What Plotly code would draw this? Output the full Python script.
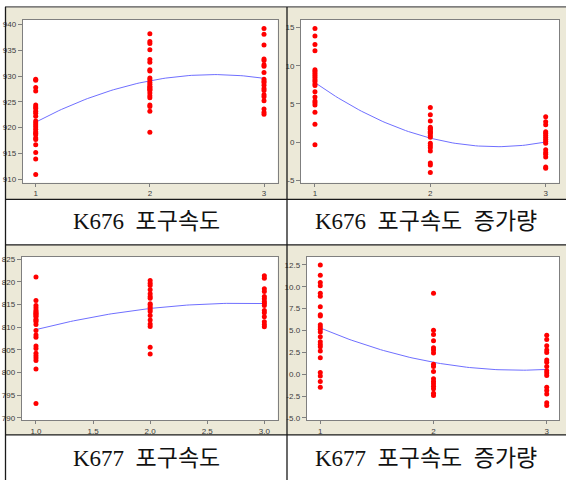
import numpy as np
import plotly.graph_objects as go

W, H = 566, 483

# ---------------- data ----------------
groups = [1, 2, 3]

k676_speed_g1 = [929.4, 929.2, 927.8, 927.1, 924.4, 924.0, 923.7, 923.2, 922.8, 922.2, 921.3, 920.9,
                 920.5, 920.1, 919.7, 919.2, 918.9, 918.6, 918.0, 917.7, 916.7, 915.2, 913.9, 910.9]
k676_speed_g2 = [938.2, 936.7, 936.3, 935.1, 933.2, 932.7, 931.2, 931.0, 929.6, 929.3, 928.8, 928.4,
                 928.0, 927.9, 927.6, 927.4, 927.2, 926.7, 926.2, 925.8, 924.4, 924.1, 923.2, 919.1]
k676_speed_g3 = [939.2, 938.1, 936.0, 933.3, 933.0, 932.2, 931.9, 930.7, 929.4, 929.0, 928.7, 928.2,
                 927.6, 927.2, 926.4, 926.0, 925.2, 923.6, 923.0, 922.6]

k676_inc_g1 = [14.87, 13.88, 12.76, 11.94, 9.48, 9.27, 9.0, 8.75, 8.49, 8.19, 7.97, 7.63, 7.41,
               6.59, 5.91, 5.39, 5.17, 4.87, 3.92, 2.33, -0.34]
k676_inc_g2 = [4.53, 3.58, 2.76, 1.94, 1.8, 1.68, 1.42, 1.3, 1.16, 0.86, 0.65, -0.13, -0.43, -0.73,
               -1.16, -2.72, -2.97, -3.97]
k676_inc_g3 = [3.32, 2.67, 2.28, 1.38, 1.16, 0.91, 0.65, 0.39, 0.13, -0.13, -0.99, -1.34, -1.59,
               -1.94, -3.23, -3.4]

k677_speed_g1 = [821.1, 815.9, 814.8, 814.3, 813.8, 813.5, 813.2, 813.0, 812.8, 812.5, 812.3, 811.8,
                 811.5, 811.2, 810.6, 809.3, 808.3, 807.8, 805.9, 805.3, 804.3, 803.7, 803.2, 802.7,
                 800.8, 793.2]
k677_speed_g2 = [820.3, 819.7, 819.2, 818.3, 817.4, 816.8, 816.4, 815.2, 814.9, 814.4, 813.9, 813.5,
                 812.6, 811.6, 810.7, 810.2, 805.6, 804.1]
k677_speed_g3 = [821.4, 820.8, 818.5, 817.9, 816.8, 816.3, 815.7, 815.3, 814.8, 813.7, 813.2, 812.3,
                 811.2, 810.6, 810.1]

k677_inc_g1 = [12.5, 11.33, 10.5, 10.12, 9.26, 8.92, 7.71, 6.8, 6.65, 5.67, 5.41, 5.14, 4.84, 4.28,
               3.71, 3.41, 3.14, 2.65, 1.9, 0.2, -0.21, -0.82, -1.49]
k677_inc_g2 = [9.26, 5.03, 4.54, 3.82, 3.03, 2.77, 2.43, 1.15, 0.88, 0.32, -0.51, -0.82, -1.08,
               -1.38, -1.65, -2.17, -2.44]
k677_inc_g3 = [4.47, 3.97, 3.26, 2.77, 2.5, 1.64, 1.37, 0.88, 0.39, 0.13, -0.14, -1.49, -1.87,
               -2.25, -3.27, -3.57]

captions = ["K676\u00a0\u00a0포구속도", "K676\u00a0\u00a0포구속도\u00a0\u00a0증가량",
            "K677\u00a0\u00a0포구속도", "K677\u00a0\u00a0포구속도\u00a0\u00a0증가량"]

y_ticks_tl = [910, 915, 920, 925, 930, 935, 940]
y_ticks_tr = [-5, 0, 5, 10, 15]
y_ticks_bl = [790, 795, 800, 805, 810, 815, 820, 825]
y_ticks_br = [-5.0, -2.5, 0.0, 2.5, 5.0, 7.5, 10.0, 12.5]
x_ticks_int = [1, 2, 3]
x_ticks_half = [1.0, 1.5, 2.0, 2.5, 3.0]

# ---------------- helpers ----------------
def px(x):
    return x / W

def py(y):
    return 1 - y / H

BEIGE = "#ECE9D8"
FRAME = "#7F7F7F"
TICKC = "#3C3C3C"

panels = [
    dict(data=[k676_speed_g1, k676_speed_g2, k676_speed_g3], box=(22.7, 277.7, 18.3, 182.7),
         xr=[0.886, 3.12], yr=[909.3, 940.85], yt=y_ticks_tl, xt=x_ticks_int, xf="d", yf="d"),
    dict(data=[k676_inc_g1, k676_inc_g2, k676_inc_g3], box=(301.0, 559.3, 18.3, 182.7),
         xr=[0.879, 3.118], yr=[-5.31, 15.96], yt=y_ticks_tr, xt=x_ticks_int, xf="d", yf="d"),
    dict(data=[k677_speed_g1, k677_speed_g2, k677_speed_g3], box=(21.7, 277.7, 257.3, 422.3),
         xr=[0.875, 3.117], yr=[789.56, 825.59], yt=y_ticks_bl, xt=x_ticks_half, xf=".1f", yf="d"),
    dict(data=[k677_inc_g1, k677_inc_g2, k677_inc_g3], box=(306.7, 559.3, 257.3, 422.7),
         xr=[0.88, 3.111], yr=[-5.27, 13.45], yt=y_ticks_br, xt=x_ticks_int, xf="d", yf=".1f"),
]

fig = go.Figure()
shapes = []

# beige panel backgrounds
for (x0, x1, y0, y1) in [(5, 287, 5, 199.5), (287, 566, 5, 199.5),
                         (5, 287, 245.5, 437.5), (287, 566, 245.5, 437.5)]:
    shapes.append(dict(type="rect", xref="paper", yref="paper", x0=px(x0), x1=px(x1),
                       y0=py(y1), y1=py(y0), fillcolor=BEIGE, line=dict(width=0), layer="below"))

layout_axes = {}
for i, p in enumerate(panels):
    n = "" if i == 0 else str(i + 1)
    x0, x1, y0, y1 = p["box"]
    shapes.append(dict(type="rect", xref="paper", yref="paper", x0=px(x0), x1=px(x1),
                       y0=py(y1), y1=py(y0), fillcolor="white", line=dict(width=0), layer="below"))
    xs_all, ys_all = [], []
    for g, vals in zip(groups, p["data"]):
        xs_all += [g] * len(vals)
        ys_all += vals
    xs_all = np.array(xs_all, dtype=float)
    ys_all = np.array(ys_all, dtype=float)
    coef = np.polyfit(xs_all, ys_all, 2)
    xf = np.linspace(groups[0], groups[-1], 80)
    fig.add_trace(go.Scatter(x=xf, y=np.polyval(coef, xf), mode="lines",
                             line=dict(color="#6F6FFF", width=1), xaxis="x" + n, yaxis="y" + n,
                             hoverinfo="skip", showlegend=False))
    fig.add_trace(go.Scatter(x=xs_all, y=ys_all, mode="markers",
                             marker=dict(color="#FF0000", size=5, line=dict(width=0)),
                             xaxis="x" + n, yaxis="y" + n, showlegend=False))
    common = dict(showgrid=False, zeroline=False, showline=True, mirror=True, linecolor=FRAME,
                  linewidth=1, ticks="outside", tickcolor=FRAME, ticklen=3, tickwidth=1,
                  tickfont=dict(family="Liberation Sans, Arial, sans-serif", size=8, color=TICKC),
                  fixedrange=True)
    layout_axes["xaxis" + n] = dict(common, domain=[px(x0), px(x1)], range=p["xr"],
                                    anchor="y" + n, tickmode="array", tickvals=p["xt"],
                                    ticktext=[format(v, p["xf"]) if p["xf"] != "d" else str(int(v)) for v in p["xt"]])
    layout_axes["yaxis" + n] = dict(common, domain=[py(y1), py(y0)], range=p["yr"],
                                    anchor="x" + n, tickmode="array", tickvals=p["yt"],
                                    ticktext=[format(v, p["yf"]) if p["yf"] != "d" else str(int(v)) for v in p["yt"]],
                                    ticklen=4)

# table borders
BLK = "#1A1A1A"
for (a, b, c, d, col) in [(5, 566, 5, 5, "#555555"), (5, 566, 199.5, 199.5, BLK),
                          (5, 566, 245.5, 245.5, BLK), (5, 566, 437.5, 437.5, BLK)]:
    shapes.append(dict(type="line", xref="paper", yref="paper", x0=px(a), x1=px(b),
                       y0=py(c), y1=py(d), line=dict(color=col, width=1.3), layer="above"))
for xv in [5.5, 287]:
    shapes.append(dict(type="line", xref="paper", yref="paper", x0=px(xv), x1=px(xv),
                       y0=py(483), y1=py(5), line=dict(color=BLK, width=1.3), layer="above"))

annotations = []
for cap, cx, cy in zip(captions, [146, 425.5, 146, 425.5], [222, 222, 461, 461]):
    annotations.append(dict(text=cap, xref="paper", yref="paper", x=px(cx), y=py(cy),
                            xanchor="center", yanchor="middle", showarrow=False,
                            font=dict(family="Liberation Serif, Noto Sans CJK KR, serif",
                                      size=23, color="#111111")))

fig.update_layout(width=W, height=H, margin=dict(l=0, r=0, t=0, b=0),
                  paper_bgcolor="white", plot_bgcolor="rgba(0,0,0,0)",
                  shapes=shapes, annotations=annotations, showlegend=False, **layout_axes)

fig.write_html("out.html", config={"displayModeBar": False},
               post_script="document.body.style.margin='0px';document.body.style.padding='0px';")
